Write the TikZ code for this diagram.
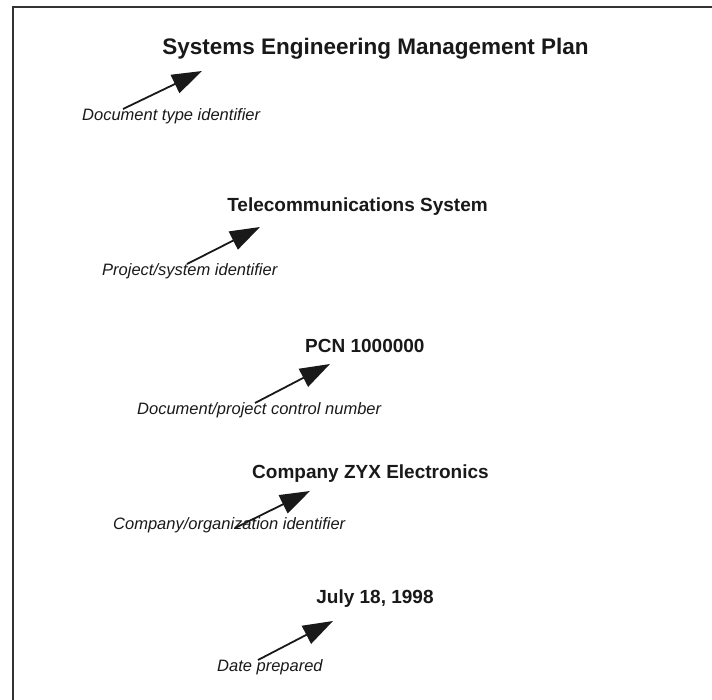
\documentclass[tikz,border=0pt]{standalone}
\usepackage{fontspec}
\setmainfont{Liberation Sans}
\usetikzlibrary{arrows.meta}
\begin{document}
\begin{tikzpicture}[x=1pt,y=-1pt,
  titletext/.style={font=\fontsize{19}{22}\selectfont\bfseries, inner sep=0pt, text=black!90},
  labeltext/.style={font=\fontsize{16.5}{19}\selectfont\itshape, inner sep=0pt, anchor=base west, text=black!90},
  pointer/.style={line width=1.8pt, black!90, -{Triangle[length=30pt,width=20pt]}},
  frameline/.style={line width=1.8pt, black!80}]
\useasboundingbox (0,0) rectangle (712,700);
\draw[frameline] (13,700) |- (712,7);
% headings
\node[titletext, font=\fontsize{22.5}{26}\selectfont\bfseries, anchor=base] (t1) at (375.5,55) {Systems Engineering Management Plan};
\node[titletext, anchor=base] (t2) at (357.5,212) {Telecommunications System};
\node[titletext, anchor=base west] (t3) at (305,353) {PCN 1000000};
\node[titletext, anchor=base west] (t4) at (252,478) {Company ZYX Electronics};
\node[titletext, anchor=base] (t5) at (375,603) {July 18, 1998};
% labels
\node[labeltext] (l1) at (82,121) {Document type identifier};
\node[labeltext] (l2) at (102,276) {Project/system identifier};
\node[labeltext] (l3) at (137,414) {Document/project control number};
\node[labeltext] (l4) at (113,529) {Company/organization identifier};
\node[labeltext] (l5) at (217,671) {Date prepared};
% arrow end points
\coordinate (s1) at (123,109); \coordinate (e1) at (202,71);
\coordinate (s2) at (187,264); \coordinate (e2) at (260,227);
\coordinate (s3) at (255,403); \coordinate (e3) at (330,364);
\coordinate (s4) at (235,528); \coordinate (e4) at (310,491);
\coordinate (s5) at (258,660); \coordinate (e5) at (333,621);
\foreach \i in {1,...,5} \draw[pointer] (s\i) -- (e\i);
\end{tikzpicture}
\end{document}
